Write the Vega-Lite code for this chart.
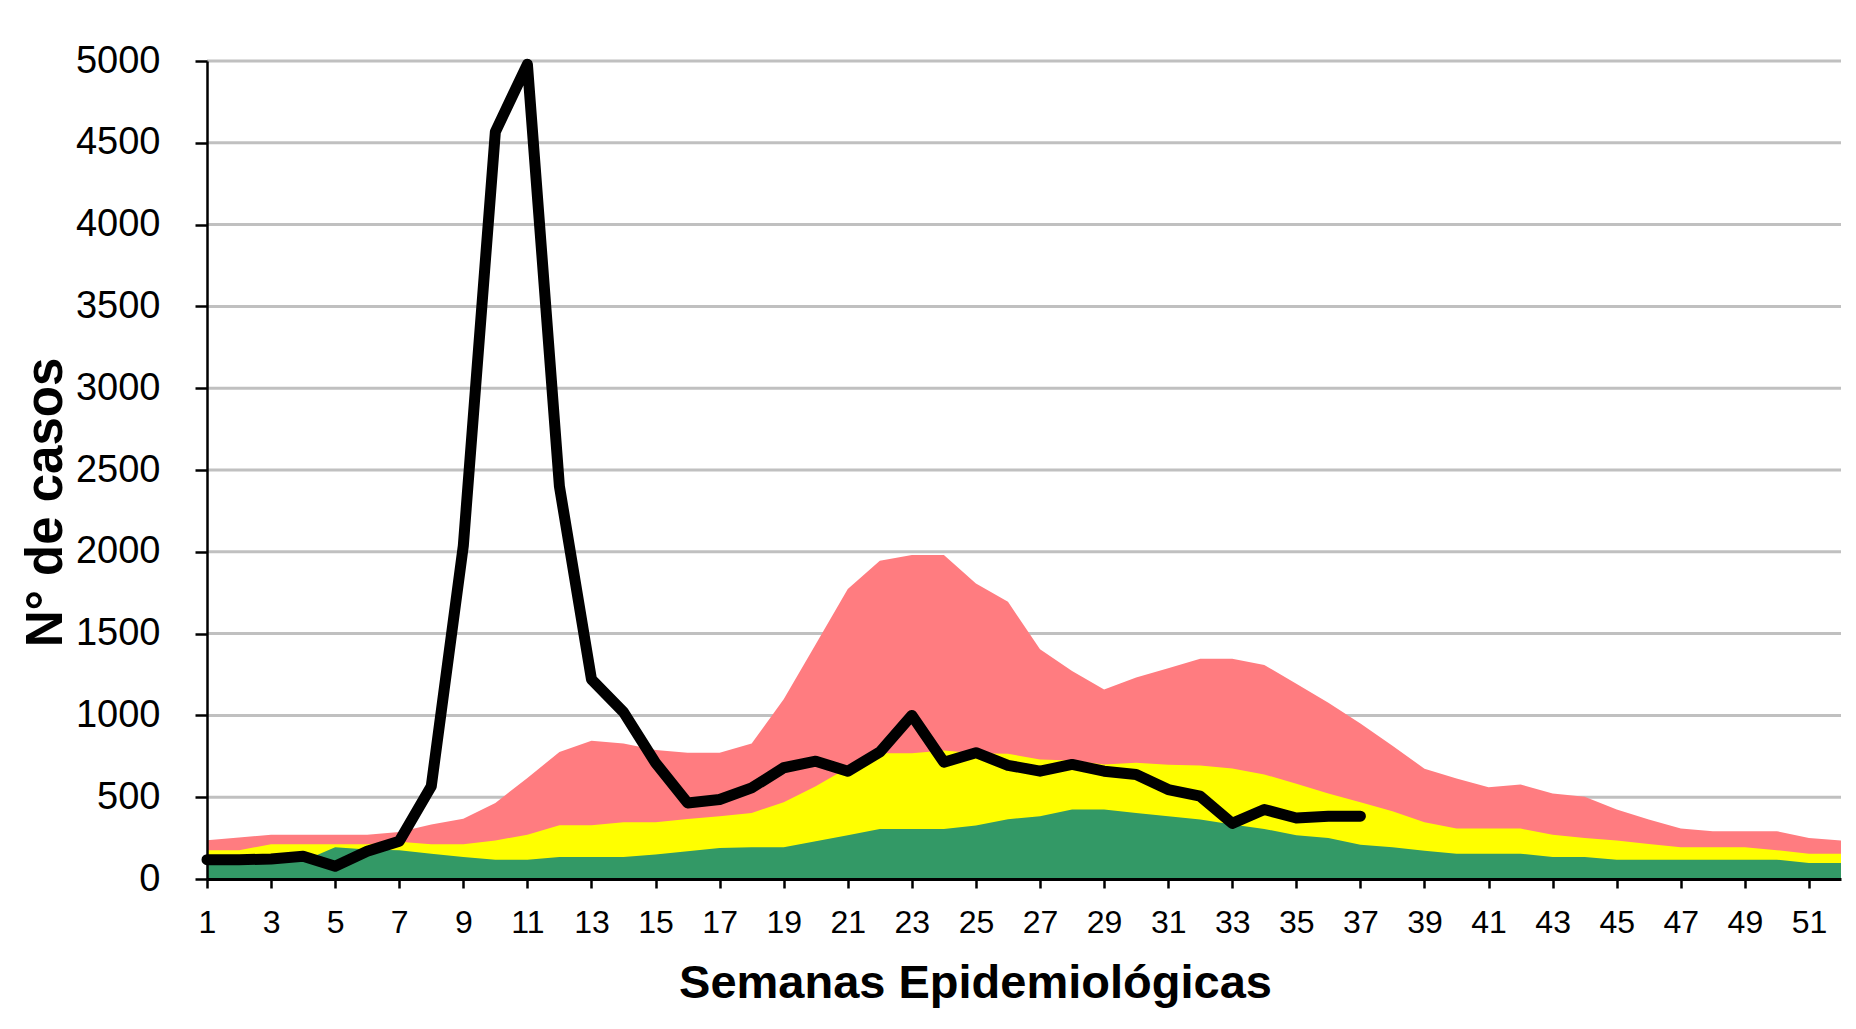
{
  "$schema": "https://vega.github.io/schema/vega-lite/v6.json",
  "autosize": "none",
  "width": 1634,
  "height": 818,
  "padding": {"left": 207, "top": 61, "right": 15, "bottom": 150},
  "background": "white",
  "config": {"view": {"stroke": null}, "font": "Liberation Sans"},
  "data": {"values": [
    {"semana": 1, "exito": 90, "seguridad": 176, "alerta": 237, "casos": 118},
    {"semana": 2, "exito": 90, "seguridad": 176, "alerta": 253, "casos": 118},
    {"semana": 3, "exito": 95, "seguridad": 212, "alerta": 271, "casos": 122},
    {"semana": 4, "exito": 110, "seguridad": 212, "alerta": 271, "casos": 139},
    {"semana": 5, "exito": 194, "seguridad": 212, "alerta": 271, "casos": 78},
    {"semana": 6, "exito": 180, "seguridad": 212, "alerta": 271, "casos": 169},
    {"semana": 7, "exito": 176, "seguridad": 227, "alerta": 288, "casos": 231},
    {"semana": 8, "exito": 155, "seguridad": 212, "alerta": 333, "casos": 567},
    {"semana": 9, "exito": 135, "seguridad": 212, "alerta": 369, "casos": 2037},
    {"semana": 10, "exito": 118, "seguridad": 235, "alerta": 465, "casos": 4567},
    {"semana": 11, "exito": 118, "seguridad": 271, "alerta": 618, "casos": 4980},
    {"semana": 12, "exito": 135, "seguridad": 329, "alerta": 776, "casos": 2400},
    {"semana": 13, "exito": 135, "seguridad": 329, "alerta": 845, "casos": 1220},
    {"semana": 14, "exito": 135, "seguridad": 347, "alerta": 829, "casos": 1020},
    {"semana": 15, "exito": 149, "seguridad": 347, "alerta": 788, "casos": 710},
    {"semana": 16, "exito": 169, "seguridad": 367, "alerta": 771, "casos": 465},
    {"semana": 17, "exito": 190, "seguridad": 384, "alerta": 771, "casos": 486},
    {"semana": 18, "exito": 194, "seguridad": 404, "alerta": 829, "casos": 557},
    {"semana": 19, "exito": 194, "seguridad": 469, "alerta": 1098, "casos": 680},
    {"semana": 20, "exito": 231, "seguridad": 567, "alerta": 1435, "casos": 720},
    {"semana": 21, "exito": 267, "seguridad": 680, "alerta": 1772, "casos": 659},
    {"semana": 22, "exito": 306, "seguridad": 769, "alerta": 1945, "casos": 776},
    {"semana": 23, "exito": 306, "seguridad": 769, "alerta": 1980, "casos": 1000},
    {"semana": 24, "exito": 306, "seguridad": 786, "alerta": 1980, "casos": 714},
    {"semana": 25, "exito": 327, "seguridad": 769, "alerta": 1806, "casos": 772},
    {"semana": 26, "exito": 365, "seguridad": 765, "alerta": 1694, "casos": 695},
    {"semana": 27, "exito": 384, "seguridad": 731, "alerta": 1404, "casos": 659},
    {"semana": 28, "exito": 425, "seguridad": 725, "alerta": 1272, "casos": 700},
    {"semana": 29, "exito": 425, "seguridad": 700, "alerta": 1159, "casos": 659},
    {"semana": 30, "exito": 404, "seguridad": 710, "alerta": 1231, "casos": 639},
    {"semana": 31, "exito": 384, "seguridad": 698, "alerta": 1288, "casos": 547},
    {"semana": 32, "exito": 363, "seguridad": 694, "alerta": 1347, "casos": 506},
    {"semana": 33, "exito": 333, "seguridad": 676, "alerta": 1347, "casos": 340},
    {"semana": 34, "exito": 306, "seguridad": 639, "alerta": 1308, "casos": 425},
    {"semana": 35, "exito": 267, "seguridad": 582, "alerta": 1194, "casos": 373},
    {"semana": 36, "exito": 251, "seguridad": 522, "alerta": 1078, "casos": 384},
    {"semana": 37, "exito": 210, "seguridad": 469, "alerta": 951, "casos": 384},
    {"semana": 38, "exito": 194, "seguridad": 414, "alerta": 815},
    {"semana": 39, "exito": 173, "seguridad": 347, "alerta": 674},
    {"semana": 40, "exito": 155, "seguridad": 308, "alerta": 614},
    {"semana": 41, "exito": 155, "seguridad": 308, "alerta": 561},
    {"semana": 42, "exito": 155, "seguridad": 308, "alerta": 578},
    {"semana": 43, "exito": 135, "seguridad": 271, "alerta": 522},
    {"semana": 44, "exito": 135, "seguridad": 251, "alerta": 502},
    {"semana": 45, "exito": 118, "seguridad": 235, "alerta": 425},
    {"semana": 46, "exito": 118, "seguridad": 214, "alerta": 363},
    {"semana": 47, "exito": 118, "seguridad": 194, "alerta": 308},
    {"semana": 48, "exito": 118, "seguridad": 194, "alerta": 292},
    {"semana": 49, "exito": 118, "seguridad": 194, "alerta": 292},
    {"semana": 50, "exito": 118, "seguridad": 176, "alerta": 292},
    {"semana": 51, "exito": 98, "seguridad": 155, "alerta": 251},
    {"semana": 52, "exito": 98, "seguridad": 155, "alerta": 235}
  ]},
  "layer": [
    {
      "data": {"values": [{"g": 500}, {"g": 1000}, {"g": 1500}, {"g": 2000}, {"g": 2500}, {"g": 3000}, {"g": 3500}, {"g": 4000}, {"g": 4500}, {"g": 5000}]},
      "mark": {"type": "rule", "color": "#C0C0C0", "strokeWidth": 3},
      "encoding": {
        "y": {"field": "g", "type": "quantitative",
          "scale": {"domain": [0, 5000], "nice": false},
          "axis": {
            "title": "N° de casos",
            "values": [0, 500, 1000, 1500, 2000, 2500, 3000, 3500, 4000, 4500, 5000],
            "format": "d",
            "grid": false,
            "domainColor": "black", "domainWidth": 2.5,
            "tickColor": "black", "tickWidth": 2.5, "tickSize": 12,
            "labelFontSize": 38, "labelColor": "black", "labelPadding": 35,
            "labelFlush": false, "labelOverlap": false,
            "titleFontSize": 51, "titleFontWeight": "bold", "titleColor": "black",
            "titleAngle": -90, "titleX": -146, "titleY": 441, "titleAlign": "center", "titleBaseline": "alphabetic",
            "zindex": 1
          }
        }
      }
    },
    {
      "mark": {"type": "area", "color": "#FF7C80", "interpolate": "linear"},
      "encoding": {
        "x": {"field": "semana", "type": "quantitative",
          "scale": {"domain": [1, 52], "nice": false, "zero": false},
          "axis": {
            "title": "Semanas Epidemiológicas",
            "values": [1,2,3,4,5,6,7,8,9,10,11,12,13,14,15,16,17,18,19,20,21,22,23,24,25,26,27,28,29,30,31,32,33,34,35,36,37,38,39,40,41,42,43,44,45,46,47,48,49,50,51,52],
            "labelExpr": "datum.value % 2 == 1 ? datum.label : ''",
            "grid": false,
            "domainColor": "black", "domainWidth": 3,
            "tickColor": "black", "tickWidth": 2.5, "tickSize": 9,
            "labelFontSize": 32, "labelColor": "black", "labelPadding": 19,
            "labelFlush": false, "labelOverlap": false,
            "titleFontSize": 47, "titleFontWeight": "bold", "titleColor": "black",
            "titleX": 768, "titleY": 118, "titleAlign": "center", "titleBaseline": "alphabetic",
            "zindex": 1
          }
        },
        "y": {"field": "alerta", "type": "quantitative", "scale": {"domain": [0, 5000], "nice": false}}
      }
    },
    {
      "mark": {"type": "area", "color": "#FFFF00", "interpolate": "linear"},
      "encoding": {
        "x": {"field": "semana", "type": "quantitative"},
        "y": {"field": "seguridad", "type": "quantitative"}
      }
    },
    {
      "mark": {"type": "area", "color": "#339966", "interpolate": "linear"},
      "encoding": {
        "x": {"field": "semana", "type": "quantitative"},
        "y": {"field": "exito", "type": "quantitative"}
      }
    },
    {
      "mark": {"type": "line", "color": "black", "strokeWidth": 11, "strokeJoin": "round", "strokeCap": "round"},
      "encoding": {
        "x": {"field": "semana", "type": "quantitative"},
        "y": {"field": "casos", "type": "quantitative"}
      }
    }
  ]
}
